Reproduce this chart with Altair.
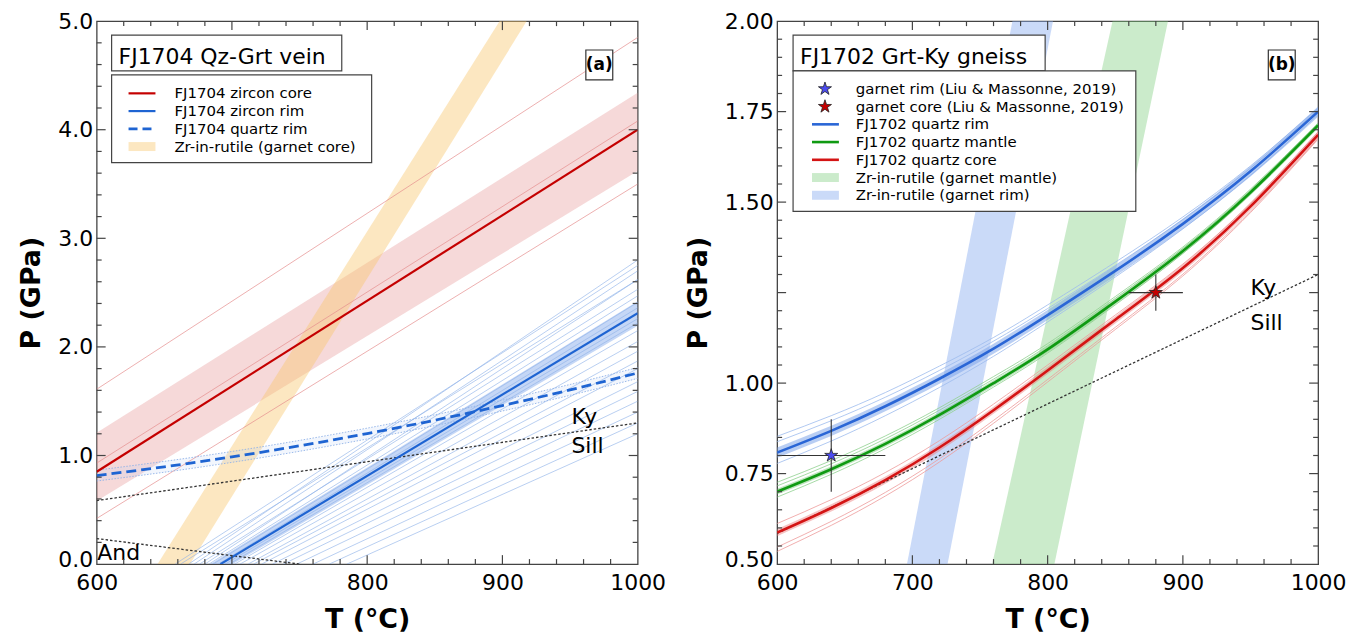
import altair as alt
import pandas as pd

# ---------------- data ----------------
# Panel (a): FJ1704 Qz-Grt vein
a_T = [600, 1000]
a_zc_P = [0.85, 4.00]                 # FJ1704 zircon core (centre line)
a_zc_lo = [0.58, 3.62]
a_zc_hi = [1.21, 4.34]
a_zc_thin_start = [1.61, 0.93, 0.42]  # thin red lines: P at 600 C
a_zc_thin_end = [4.85, 4.08, 3.50]    # thin red lines: P at 1000 C

a_zr_P = [0.0, 5.0]                   # Zr-in-rutile (garnet core) band
a_zr_Tlo = [645, 898]
a_zr_Thi = [669, 918]

a_zrim_T = [691.5, 1000]              # FJ1704 zircon rim
a_zrim_P = [0.0, 2.31]
a_zrim_band_T = [680, 1000]
a_zrim_band_lo = [-0.15, 2.195]
a_zrim_band_hi = [-0.03, 2.42]
a_zrim_thin_T0 = [658, 662, 668, 672, 676, 680, 683, 686, 690, 695, 698,
                  702, 706, 712, 716, 722, 730, 738, 748, 760, 772, 785]
a_zrim_thin_P1 = [2.75, 2.62, 2.80, 2.70, 2.53, 2.62, 2.47, 2.41, 2.36, 2.26, 2.22,
                  2.15, 2.05, 1.96, 1.87, 1.80, 1.68, 1.59, 1.50, 1.40, 1.30, 1.20]

a_qr_T = [600, 650, 700, 750, 800, 850, 900, 950, 1000]   # FJ1704 quartz rim
a_qr_P = [0.815, 0.896, 0.987, 1.089, 1.202, 1.325, 1.460, 1.604, 1.760]
a_qr_lo = [0.765, 0.846, 0.937, 1.039, 1.152, 1.275, 1.410, 1.554, 1.710]
a_qr_hi = [0.865, 0.946, 1.037, 1.139, 1.252, 1.375, 1.510, 1.654, 1.810]

kysill_T = [600, 1000]
kysill_P = [0.585, 1.30]
andsill_T = [600, 750]
andsill_P = [0.235, 0.0]

a_legend = ["FJ1704 zircon core", "FJ1704 zircon rim", "FJ1704 quartz rim",
            "Zr-in-rutile (garnet core)"]

# Panel (b): FJ1702 Grt-Ky gneiss
b_T = [600, 640, 680, 720, 760, 800, 850, 900, 950, 1000]
b_rim = [0.808, 0.868, 0.936, 1.012, 1.095, 1.188, 1.310, 1.440, 1.585, 1.750]
b_rim_hi = [0.853, 0.910, 0.974, 1.047, 1.126, 1.216, 1.334, 1.459, 1.600, 1.760]
b_rim_hi2 = [0.838, 0.896, 0.961, 1.035, 1.116, 1.206, 1.325, 1.452, 1.594, 1.756]
b_rim_lo = [0.778, 0.840, 0.910, 0.988, 1.074, 1.169, 1.293, 1.426, 1.574, 1.742]
b_man = [0.700, 0.762, 0.832, 0.912, 1.000, 1.093, 1.225, 1.365, 1.527, 1.712]
b_man_hi = [0.726, 0.786, 0.854, 0.932, 1.018, 1.109, 1.239, 1.376, 1.536, 1.718]
b_man_hi2 = [0.716, 0.777, 0.846, 0.925, 1.011, 1.103, 1.234, 1.372, 1.532, 1.716]
b_man_lo = [0.685, 0.748, 0.819, 0.900, 0.989, 1.083, 1.216, 1.358, 1.522, 1.708]
b_core = [0.587, 0.655, 0.732, 0.822, 0.925, 1.035, 1.175, 1.318, 1.488, 1.686]
b_core_hi = [0.612, 0.678, 0.753, 0.841, 0.942, 1.050, 1.188, 1.329, 1.497, 1.694]
b_core_lo = [0.547, 0.618, 0.698, 0.791, 0.897, 1.010, 1.154, 1.301, 1.475, 1.676]
b_core_lo2 = [0.535, 0.607, 0.688, 0.782, 0.889, 1.003, 1.148, 1.296, 1.471, 1.674]

b_zrm_P = [0.5, 2.0]       # Zr-in-rutile (garnet mantle)
b_zrm_Tlo = [759, 848]
b_zrm_Thi = [805, 889]
b_zrr_P = [0.5, 2.0]       # Zr-in-rutile (garnet rim)
b_zrr_Tlo = [696, 774]
b_zrr_Thi = [726, 804]

star_T = [640, 880]
star_P = [0.80, 1.25]
star_Terr = [40, 20]
star_Perr = [0.10, 0.05]
star_names = ["garnet rim (Liu & Massonne, 2019)", "garnet core (Liu & Massonne, 2019)"]

b_legend = ["FJ1702 quartz rim", "FJ1702 quartz mantle", "FJ1702 quartz core",
            "Zr-in-rutile (garnet mantle)", "Zr-in-rutile (garnet rim)"]

# ---------------- styling ----------------
W, H = 543, 545
FONT = "'DejaVu Sans', 'Verdana', sans-serif"
FR = "#444444"
ONE = pd.DataFrame({"k": [0]})
STAR = ("M0,-1L0.2245,-0.309L0.9511,-0.309L0.3633,0.118L0.5878,0.809L0,0.382"
        "L-0.5878,0.809L-0.3633,0.118L-0.9511,-0.309L-0.2245,-0.309Z")

RED_A, BLUE_A = "#c40000", "#1e64d2"
BLUE_B, GREEN_B, RED_B = "#2a66d6", "#0f9a12", "#d41414"

XTICKS = [600, 700, 800, 900, 1000]
AXES = {}


def make_axes(key, yvals, yfmt, ybottom):
    ax_x = alt.Axis(title="T (°C)", values=XTICKS, format="d", ticks=False, domain=False,
                    grid=False, labelFlush=False, labelOverlap=False, labelPadding=8,
                    titlePadding=14)
    ax_y = alt.Axis(title="P (GPa)", values=yvals, format=yfmt, ticks=False, domain=False,
                    grid=False, labelFlush=False, labelOverlap=False, labelPadding=4,
                    titlePadding=12,
                    labelOffset={"condition": {"test": f"datum.value == {ybottom}",
                                               "value": -5}, "value": 0})
    AXES[key] = (ax_x, ax_y)


def Xq(f, s):
    return alt.X(f, type="quantitative", scale=s[1], axis=AXES[s[0]][0])


def Yq(f, s):
    return alt.Y(f, type="quantitative", scale=s[2], axis=AXES[s[0]][1])


def line(T, P, S, color, sw, dash=None, op=1.0, interp="linear"):
    kw = dict(color=color, strokeWidth=sw, clip=True, opacity=op, interpolate=interp)
    if dash:
        kw["strokeDash"] = dash
    return alt.Chart(pd.DataFrame({"T": T, "P": P})).mark_line(**kw).encode(
        x=Xq("T", S), y=Yq("P", S), order="T:Q")


def band(T, lo, hi, S, color, op, interp="linear"):
    return alt.Chart(pd.DataFrame({"T": T, "lo": lo, "hi": hi})).mark_area(
        color=color, opacity=op, clip=True, interpolate=interp).encode(
        x=Xq("T", S), y=Yq("lo", S), y2="hi")


def hband(P, tlo, thi, S, color, op):
    return alt.Chart(pd.DataFrame({"P": P, "tlo": tlo, "thi": thi})).mark_area(
        color=color, opacity=op, orient="horizontal", clip=True).encode(
        y=Yq("P", S), x=Xq("tlo", S), x2="thi")


def ptext(x, y, s, size=15, weight="normal", align="left", baseline="middle"):
    return alt.Chart(ONE).mark_text(text=s, fontSize=size, fontWeight=weight, align=align,
                                    baseline=baseline, font=FONT, color="black").encode(
        x=alt.value(x), y=alt.value(y))


def dtext(T, P, s, S, size=22):
    return alt.Chart(pd.DataFrame({"T": [T], "P": [P]})).mark_text(
        text=s, fontSize=size, font=FONT, align="left", baseline="alphabetic",
        color="black").encode(x=Xq("T", S), y=Yq("P", S))


def prect(x1, y1, x2, y2, fill, stroke=None, sw=1.0, op=1.0):
    kw = dict(fill=fill, fillOpacity=op)
    if stroke:
        kw.update(stroke=stroke, strokeWidth=sw)
    else:
        kw.update(strokeWidth=0)
    return alt.Chart(ONE).mark_rect(**kw).encode(
        x=alt.value(x1), x2=alt.value(x2), y=alt.value(y1), y2=alt.value(y2))


def prule(x1, y1, x2, y2, color, sw, dash=None):
    kw = dict(color=color, strokeWidth=sw)
    if dash:
        kw["strokeDash"] = dash
    return alt.Chart(ONE).mark_rule(**kw).encode(
        x=alt.value(x1), x2=alt.value(x2), y=alt.value(y1), y2=alt.value(y2))


def pstar(x, y, fill, size=190):
    return alt.Chart(ONE).mark_point(shape=STAR, filled=True, fill=fill, stroke="#222222",
                                     strokeWidth=0.8, size=size, opacity=1).encode(
        x=alt.value(x), y=alt.value(y))


def ticks(S, xmaj, xmin, ymaj, ymin):
    out = []
    for vals, L in ((xmaj, 9), (xmin, 5)):
        c = alt.Chart(pd.DataFrame({"T": vals})).mark_rule(color=FR, strokeWidth=1.2)
        out.append(c.encode(x=Xq("T", S), y=alt.value(H), y2=alt.value(H - L)))
        out.append(c.encode(x=Xq("T", S), y=alt.value(0), y2=alt.value(L)))
    for vals, L in ((ymaj, 9), (ymin, 5)):
        c = alt.Chart(pd.DataFrame({"P": vals})).mark_rule(color=FR, strokeWidth=1.2)
        out.append(c.encode(y=Yq("P", S), x=alt.value(0), x2=alt.value(L)))
        out.append(c.encode(y=Yq("P", S), x=alt.value(W), x2=alt.value(W - L)))
    return out


x_major = [700, 800, 900]
x_minor = [t for t in range(620, 1000, 20) if t % 100 != 0]

# ---------------- panel (a) ----------------
make_axes("a", [0, 1, 2, 3, 4, 5], ".1f", 0)
SA = ("a", alt.Scale(domain=[600, 1000], nice=False, zero=False),
      alt.Scale(domain=[0, 5], nice=False, zero=False))

zc_rows = []
for i, (p0, p1) in enumerate(zip(a_zc_thin_start, a_zc_thin_end)):
    zc_rows += [{"id": i, "T": a_T[0], "P": p0}, {"id": i, "T": a_T[1], "P": p1}]
zr_rows = []
for i, (t0, p1) in enumerate(zip(a_zrim_thin_T0, a_zrim_thin_P1)):
    zr_rows += [{"id": i, "T": t0, "P": 0.0}, {"id": i, "T": 1000, "P": p1}]

thin_red = alt.Chart(pd.DataFrame(zc_rows)).mark_line(
    color="#e58d8d", strokeWidth=0.7, clip=True).encode(
    x=Xq("T", SA), y=Yq("P", SA), detail="id:N")
thin_blue = alt.Chart(pd.DataFrame(zr_rows)).mark_line(
    color="#8fb2e8", strokeWidth=0.7, clip=True, opacity=0.9).encode(
    x=Xq("T", SA), y=Yq("P", SA), detail="id:N")

a_layers = [
    band(a_T, a_zc_lo, a_zc_hi, SA, "#e8a0a0", 0.4),
    hband(a_zr_P, a_zr_Tlo, a_zr_Thi, SA, "#f8c56b", 0.42),
    band(a_zrim_band_T, a_zrim_band_lo, a_zrim_band_hi, SA, "#7fa6ea", 0.45),
    band(a_qr_T, a_qr_lo, a_qr_hi, SA, "#b7cdf2", 0.18, "natural"),
    thin_blue,
    thin_red,
    line(a_qr_T, a_qr_lo, SA, "#8fb2e8", 0.9, dash=[1.5, 1.5], interp="natural"),
    line(a_qr_T, a_qr_hi, SA, "#8fb2e8", 0.9, dash=[1.5, 1.5], interp="natural"),
    line(kysill_T, kysill_P, SA, "#333333", 1.3, dash=[2.5, 2]),
    line(andsill_T, andsill_P, SA, "#333333", 1.3, dash=[2.5, 2]),
    line(a_T, a_zc_P, SA, RED_A, 2.2),
    line(a_zrim_T, a_zrim_P, SA, BLUE_A, 2.2),
    line(a_qr_T, a_qr_P, SA, BLUE_A, 2.8, dash=[10, 5], interp="natural"),
    dtext(951, 1.29, "Ky", SA),
    dtext(951, 1.02, "Sill", SA),
    dtext(600.5, 0.04, "And", SA),
]
a_layers += ticks(SA, x_major, x_minor, [1, 2, 3, 4],
                  [round(0.2 * k, 2) for k in range(1, 25) if k % 5 != 0])
a_layers += [
    prect(15, 14, 246, 50, "white", FR, 1.2),
    ptext(22, 43.5, "FJ1704 Qz-Grt vein", size=22, baseline="alphabetic"),
    prect(15, 54, 276, 142, "white", FR, 1.2),
]
rows_a = [72.5, 90.3, 108.1, 125.9]
a_layers += [
    prule(32, rows_a[0], 59, rows_a[0], RED_A, 2.2),
    prule(32, rows_a[1], 59, rows_a[1], BLUE_A, 2.2),
    prule(32, rows_a[2], 59, rows_a[2], BLUE_A, 2.8, dash=[9, 5]),
    prect(32, rows_a[3] - 4.5, 59, rows_a[3] + 4.5, "#f8c56b", op=0.42),
]
for lab, yy in zip(a_legend, rows_a):
    a_layers.append(ptext(78, yy, lab))
a_layers += [
    prect(491, 29, 518, 59, "white", "#333333", 1.2),
    ptext(504.5, 44.5, "(a)", size=17, weight="bold", align="center"),
]
panel_a = alt.layer(*a_layers).properties(width=W, height=H)

# ---------------- panel (b) ----------------
make_axes("b", [0.5, 0.75, 1.0, 1.5, 1.75, 2.0], ".2f", 0.5)
SB = ("b", alt.Scale(domain=[600, 1000], nice=False, zero=False),
      alt.Scale(domain=[0.5, 2.0], nice=False, zero=False))

b_layers = [
    hband(b_zrr_P, b_zrr_Tlo, b_zrr_Thi, SB, "#8aaef0", 0.45),
    hband(b_zrm_P, b_zrm_Tlo, b_zrm_Thi, SB, "#7ccc7c", 0.4),
]
for hi, hi2, lo, col in ((b_rim_hi, b_rim_hi2, b_rim_lo, "#9dbbee"),
                         (b_man_hi, b_man_hi2, b_man_lo, "#8fd08f"),
                         (b_core_hi, b_core_lo, b_core_lo2, "#ee9a9a")):
    for arr in (hi, hi2, lo):
        b_layers.append(line(b_T, arr, SB, col, 0.8, interp="natural"))
b_layers += [
    band(b_T, [p - 0.014 for p in b_rim], [p + 0.014 for p in b_rim], SB, "#7fa6ea", 0.55,
         "natural"),
    band(b_T, [p - 0.008 for p in b_man], [p + 0.008 for p in b_man], SB, "#6cc46c", 0.45,
         "natural"),
    band(b_T, [p - 0.010 for p in b_core], [p + 0.010 for p in b_core], SB, "#ec7a7a", 0.45,
         "natural"),
    line(kysill_T, kysill_P, SB, "#333333", 1.3, dash=[2.5, 2]),
    line(b_T, b_rim, SB, BLUE_B, 2.6, interp="natural"),
    line(b_T, b_man, SB, GREEN_B, 2.6, interp="natural"),
    line(b_T, b_core, SB, RED_B, 2.6, interp="natural"),
    dtext(950, 1.243, "Ky", SB),
    dtext(950, 1.146, "Sill", SB),
]
sdf = pd.DataFrame({"T": star_T, "P": star_P,
                    "t1": [t - e for t, e in zip(star_T, star_Terr)],
                    "t2": [t + e for t, e in zip(star_T, star_Terr)],
                    "p1": [p - e for p, e in zip(star_P, star_Perr)],
                    "p2": [p + e for p, e in zip(star_P, star_Perr)],
                    "name": star_names})
b_layers += [
    alt.Chart(sdf).mark_rule(color="#333333", strokeWidth=1.1).encode(
        x=Xq("t1", SB), x2="t2", y=Yq("P", SB)),
    alt.Chart(sdf).mark_rule(color="#333333", strokeWidth=1.1).encode(
        x=Xq("T", SB), y=Yq("p1", SB), y2="p2"),
    alt.Chart(sdf).mark_point(shape=STAR, filled=True, stroke="#222222", strokeWidth=0.8,
                              size=190, opacity=1).encode(
        x=Xq("T", SB), y=Yq("P", SB),
        fill=alt.Fill("name:N", scale=alt.Scale(domain=star_names,
                                                range=["#4b4bf0", "#c40000"]),
                      legend=None)),
]
b_layers += ticks(SB, x_major, x_minor, [0.75, 1.0, 1.25, 1.5, 1.75],
                  [round(0.5 + 0.05 * k, 2) for k in range(1, 30) if k % 5 != 0])
rows_b = [68.0, 85.8, 103.6, 121.4, 139.2, 157.0, 174.8]
b_layers += [
    prect(16, 14, 269, 50, "white", FR, 1.2),
    ptext(23, 43.5, "FJ1702 Grt-Ky gneiss", size=22, baseline="alphabetic"),
    prect(16, 50, 360, 191, "white", FR, 1.2),
    pstar(48, rows_b[0], "#4b4bf0"),
    pstar(48, rows_b[1], "#c40000"),
    prule(35, rows_b[2], 62, rows_b[2], BLUE_B, 2.6),
    prule(35, rows_b[3], 62, rows_b[3], GREEN_B, 2.6),
    prule(35, rows_b[4], 62, rows_b[4], RED_B, 2.6),
    prect(35, rows_b[5] - 4.5, 62, rows_b[5] + 4.5, "#7ccc7c", op=0.4),
    prect(35, rows_b[6] - 4.5, 62, rows_b[6] + 4.5, "#8aaef0", op=0.45),
]
for lab, yy in zip(star_names + b_legend, rows_b):
    b_layers.append(ptext(79, yy, lab))
b_layers += [
    prect(493, 29, 520, 59, "white", "#333333", 1.2),
    ptext(506.5, 44.5, "(b)", size=17, weight="bold", align="center"),
]
panel_b = alt.layer(*b_layers).properties(width=W, height=H)

chart = alt.hconcat(panel_a, panel_b, spacing=17).properties(
    padding={"left": 9, "top": 0, "right": 5, "bottom": 0},
    background="white",
).configure_view(
    stroke=FR, strokeWidth=1.3
).configure_axis(
    labelFont=FONT, labelFontSize=22, labelColor="black",
    titleFont=FONT, titleFontSize=27, titleFontWeight="bold", titleColor="black",
)

chart.save("out.html", embed_options={"renderer": "svg", "actions": False})
